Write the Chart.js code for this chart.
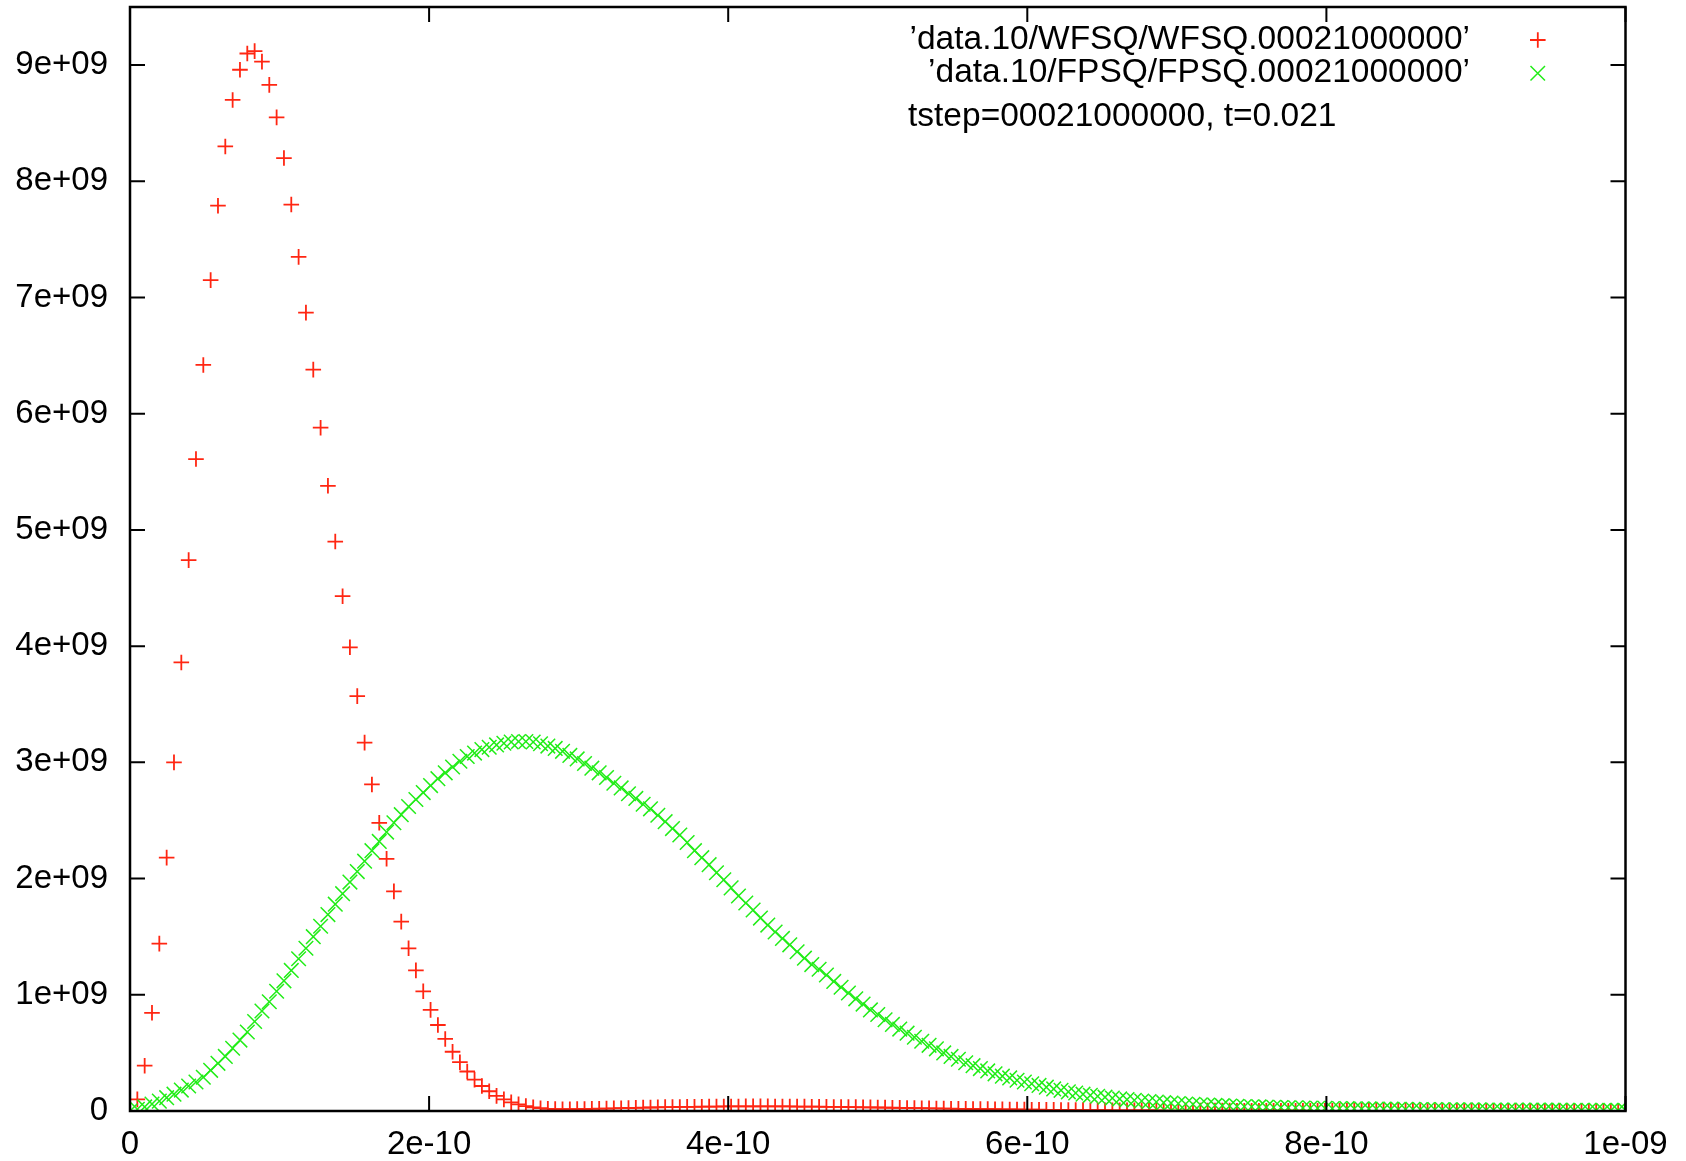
<!DOCTYPE html>
<html>
<head>
<meta charset="utf-8">
<title>WFSQ / FPSQ tstep=00021000000</title>
<script src="https://cdn.jsdelivr.net/npm/chart.js@4.4.0/dist/chart.umd.min.js"></script>
<style>
  html, body { margin: 0; padding: 0; background: #fff; }
</style>
</head>
<body>
<canvas id="plot" width="1686" height="1161"></canvas>
<script>
// sample spacing of the dump files (205 samples from 0 to 1e-9)
const X_STEP = 1e-9 / 204;

// WFSQ values, units of 1e9, one per sample
const wfsq = [
  0, 0.10, 0.39, 0.845, 1.44, 2.18, 3.00, 3.86, 4.74, 5.61,
  6.42, 7.15, 7.79, 8.30, 8.70, 8.96, 9.10, 9.12, 9.03, 8.83,
  8.55, 8.20, 7.80, 7.35, 6.87, 6.38, 5.88, 5.38, 4.90, 4.43,
  3.99, 3.57, 3.17, 2.81, 2.48, 2.17, 1.89, 1.63, 1.40, 1.21,
  1.03, 0.87, 0.74, 0.62, 0.51, 0.42, 0.34, 0.27, 0.215, 0.17,
  0.13, 0.10, 0.075, 0.057, 0.042, 0.031, 0.024, 0.019, 0.016, 0.015,
  0.015, 0.016, 0.017, 0.018, 0.020, 0.021, 0.023, 0.024, 0.026, 0.027,
  0.029, 0.030, 0.031, 0.033, 0.034, 0.035, 0.036, 0.036, 0.037, 0.038,
  0.038, 0.039, 0.039, 0.039, 0.040, 0.040, 0.040, 0.040, 0.039, 0.039,
  0.039, 0.038, 0.038, 0.037, 0.037, 0.036, 0.035, 0.035, 0.034, 0.033,
  0.032, 0.031, 0.030, 0.029, 0.028, 0.027, 0.026, 0.025, 0.024, 0.023,
  0.022, 0.021, 0.020, 0.019, 0.018, 0.017, 0.016, 0.016, 0.015, 0.014,
  0.013, 0.013, 0.012, 0.011, 0.011, 0.010, 0.010, 0.009, 0.009, 0.008,
  0.008, 0.007, 0.007, 0.007, 0.006, 0.006, 0.006, 0.005, 0.005, 0.005,
  0.005, 0.004, 0.004, 0.004, 0.004, 0.003, 0.003, 0.003, 0.003, 0.003,
  0.003, 0.002, 0.002, 0.002, 0.002, 0.002, 0.002, 0.002, 0.002, 0.002,
  0.002, 0.001, 0.001, 0.001, 0.001, 0.001, 0.001, 0.001, 0.001, 0.001,
  0.001, 0.001, 0.001, 0.001, 0.001, 0.001, 0, 0, 0, 0,
  0, 0, 0, 0, 0, 0, 0, 0, 0, 0,
  0, 0, 0, 0, 0, 0, 0, 0, 0, 0,
  0, 0, 0, 0, 0
];

// FPSQ values, units of 1e9, one per sample
const fpsq = [
  0, 0.015, 0.035, 0.06, 0.085, 0.115, 0.145, 0.18, 0.215, 0.25,
  0.29, 0.35, 0.41, 0.47, 0.54, 0.61, 0.68, 0.77, 0.86, 0.94,
  1.03, 1.12, 1.21, 1.31, 1.40, 1.50, 1.59, 1.69, 1.78, 1.87,
  1.97, 2.06, 2.15, 2.24, 2.32, 2.40, 2.48, 2.55, 2.62, 2.68,
  2.74, 2.80, 2.86, 2.91, 2.96, 3.01, 3.05, 3.08, 3.11, 3.13,
  3.15, 3.165, 3.175, 3.18, 3.18, 3.175, 3.16, 3.14, 3.12, 3.095,
  3.06, 3.03, 2.99, 2.95, 2.91, 2.87, 2.82, 2.78, 2.73, 2.69,
  2.64, 2.60, 2.545, 2.49, 2.43, 2.375, 2.31, 2.24, 2.18, 2.12,
  2.05, 1.99, 1.92, 1.85, 1.79, 1.73, 1.66, 1.60, 1.54, 1.485,
  1.43, 1.37, 1.315, 1.26, 1.22, 1.17, 1.115, 1.065, 1.015, 0.965,
  0.92, 0.87, 0.83, 0.785, 0.745, 0.705, 0.67, 0.635, 0.60, 0.565,
  0.535, 0.50, 0.47, 0.445, 0.415, 0.39, 0.365, 0.345, 0.32, 0.30,
  0.285, 0.265, 0.25, 0.235, 0.22, 0.205, 0.19, 0.178, 0.165, 0.155,
  0.145, 0.135, 0.127, 0.119, 0.111, 0.104, 0.098, 0.092, 0.086, 0.081,
  0.077, 0.072, 0.068, 0.064, 0.060, 0.057, 0.054, 0.051, 0.048, 0.046,
  0.043, 0.041, 0.039, 0.037, 0.035, 0.033, 0.032, 0.030, 0.029, 0.028,
  0.026, 0.025, 0.024, 0.023, 0.022, 0.021, 0.020, 0.019, 0.018, 0.018,
  0.017, 0.016, 0.016, 0.015, 0.014, 0.014, 0.013, 0.013, 0.012, 0.012,
  0.011, 0.011, 0.010, 0.010, 0.010, 0.009, 0.009, 0.009, 0.008, 0.008,
  0.008, 0.008, 0.007, 0.007, 0.007, 0.007, 0.006, 0.006, 0.006, 0.006,
  0.006, 0.005, 0.005, 0.005, 0.005
];

const X_TICKS = [0, 2e-10, 4e-10, 6e-10, 8e-10, 1e-9];
const X_LABELS = ['0', '2e-10', '4e-10', '6e-10', '8e-10', '1e-09'];
const Y_TICKS = [0, 1e9, 2e9, 3e9, 4e9, 5e9, 6e9, 7e9, 8e9, 9e9];
const Y_LABELS = ['0', '1e+09', '2e+09', '3e+09', '4e+09', '5e+09', '6e+09', '7e+09', '8e+09', '9e+09'];

const SERIES_NAMES = ['\u2019data.10/WFSQ/WFSQ.00021000000\u2019', '\u2019data.10/FPSQ/FPSQ.00021000000\u2019'];
const LABEL_TEXT = 'tstep=00021000000, t=0.021';

const RED = 'rgb(255, 38, 18)';
const GREEN = 'rgb(34, 236, 24)';
const FONT = "'Liberation Sans', Arial, Helvetica, sans-serif";
const TICK_LEN = 15;

const toPoints = vals => vals.map((v, i) => ({ x: i * X_STEP, y: v * 1e9 }));

// gnuplot style frame, inward mirrored ticks, key and label
const gnuplotFrame = {
  id: 'gnuplotFrame',
  afterDatasetsDraw(chart) {
    const { ctx, chartArea: a, scales } = chart;
    const xs = scales.x, ys = scales.y;
    ctx.save();
    ctx.strokeStyle = '#000';
    ctx.lineWidth = 2;
    ctx.beginPath();
    X_TICKS.forEach(v => {
      const px = xs.getPixelForValue(v);
      ctx.moveTo(px, a.bottom); ctx.lineTo(px, a.bottom - TICK_LEN);
      ctx.moveTo(px, a.top); ctx.lineTo(px, a.top + TICK_LEN);
    });
    Y_TICKS.forEach(v => {
      const py = ys.getPixelForValue(v);
      ctx.moveTo(a.left, py); ctx.lineTo(a.left + TICK_LEN, py);
      ctx.moveTo(a.right, py); ctx.lineTo(a.right - TICK_LEN, py);
    });
    ctx.stroke();
    ctx.lineWidth = 2.5;
    ctx.strokeRect(a.left, a.top, a.right - a.left, a.bottom - a.top);

    // key
    ctx.fillStyle = '#000';
    ctx.font = '33.5px ' + FONT;
    ctx.textBaseline = 'middle';
    ctx.textAlign = 'right';
    ctx.fillText(SERIES_NAMES[0], 1470, 40);
    ctx.fillText(SERIES_NAMES[1], 1470, 73);

    ctx.lineWidth = 1.8;
    ctx.strokeStyle = RED;
    ctx.beginPath();
    ctx.moveTo(1530, 40); ctx.lineTo(1545.6, 40);
    ctx.moveTo(1537.8, 32.2); ctx.lineTo(1537.8, 47.8);
    ctx.stroke();
    ctx.lineWidth = 1.5;
    ctx.strokeStyle = GREEN;
    ctx.beginPath();
    ctx.moveTo(1530.5, 66); ctx.lineTo(1545, 80.5);
    ctx.moveTo(1545, 66); ctx.lineTo(1530.5, 80.5);
    ctx.stroke();

    ctx.textAlign = 'left';
    ctx.fillText(LABEL_TEXT, 908, 117);
    ctx.restore();
  }
};

const tickFont = { family: FONT, size: 33 };

new Chart(document.getElementById('plot'), {
  type: 'scatter',
  data: {
    datasets: [
      {
        label: SERIES_NAMES[0],
        data: toPoints(wfsq),
        pointStyle: 'cross',
        pointRadius: 7.8,
        pointBorderWidth: 1.8,
        borderColor: RED,
        backgroundColor: RED,
        showLine: false,
        order: 1
      },
      {
        label: SERIES_NAMES[1],
        data: toPoints(fpsq),
        pointStyle: 'crossRot',
        pointRadius: 10.3,
        pointBorderWidth: 1.5,
        borderColor: GREEN,
        backgroundColor: GREEN,
        showLine: false,
        order: 0
      }
    ]
  },
  options: {
    responsive: false,
    animation: false,
    events: [],
    layout: { autoPadding: false, padding: { left: 0, right: 60.5, top: 7, bottom: 0 } },
    plugins: { legend: { display: false }, tooltip: { enabled: false } },
    scales: {
      x: {
        type: 'linear',
        min: 0,
        max: 1e-9,
        afterBuildTicks: s => { s.ticks = X_TICKS.map(v => ({ value: v })); },
        afterFit: s => { s.height = 50; s.paddingLeft = 0; s.paddingRight = 0; },
        grid: { display: false, drawTicks: false },
        border: { display: false },
        ticks: {
          autoSkip: false, maxRotation: 0, padding: 14,
          color: '#000', font: tickFont,
          callback: (v, i) => X_LABELS[i]
        }
      },
      y: {
        type: 'linear',
        min: 0,
        max: 9.5e9,
        afterBuildTicks: s => { s.ticks = Y_TICKS.map(v => ({ value: v })); },
        afterFit: s => { s.width = 130; s.paddingTop = 0; s.paddingBottom = 0; },
        grid: { display: false, drawTicks: false },
        border: { display: false },
        ticks: {
          autoSkip: false, padding: 22,
          color: '#000', font: tickFont,
          callback: (v, i) => Y_LABELS[i]
        }
      }
    }
  },
  plugins: [gnuplotFrame]
});
</script>
</body>
</html>
